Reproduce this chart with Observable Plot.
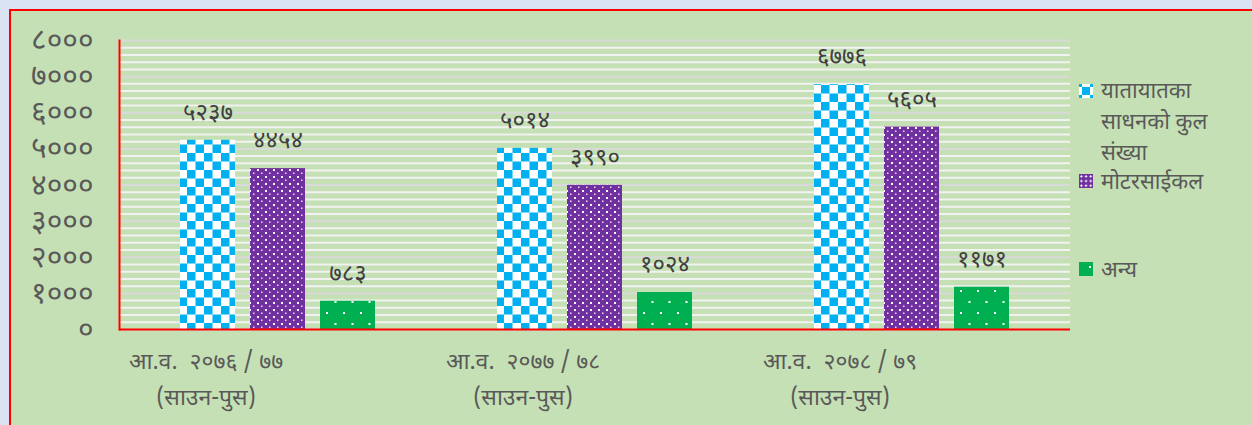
<!DOCTYPE html>
<html>
<head>
<meta charset="utf-8">
<script src="https://cdn.jsdelivr.net/npm/d3@7"></script>
<script src="https://cdn.jsdelivr.net/npm/@observablehq/plot@0.6"></script>
<style>
  html, body { margin: 0; padding: 0; }
  body { width: 1252px; height: 425px; overflow: hidden; background: #dae3f3; position: relative;
         font-family: "Noto Sans Devanagari", "Lohit Devanagari", "Noto Sans", "DejaVu Sans", sans-serif; }
  #title { position: absolute; top: -22px; left: 0; width: 1270px; text-align: center; font-size: 22px; line-height: 24px; color: #000; white-space: nowrap; }
  #panel { position: absolute; left: 9px; top: 9px; width: 1300px; height: 440px; background: #c5e0b4;
           border-left: 2px solid #ff0000; border-top: 2px solid #ff0000; }
  #chart { position: absolute; left: 0; top: 0; }
  #legend { position: absolute; left: 1079px; top: 0; color: #595959; font-size: 22px; }
  .item { position: absolute; left: 0; white-space: nowrap; }
  .sw { position: absolute; left: 0; width: 14px; height: 14px; }
  .lt { position: absolute; left: 22px; line-height: 31px; }
</style>
</head>
<body>
<div id="title">पछिल्लो तीन आर्थिक वर्षमा दर्ता भएका सवारी साधनहरूको विवरण</div>
<div id="panel"></div>
<div id="chart"></div>
<div id="legend"></div>
<script>
// ---- data ----
const groups = ["आ.व.  २०७६ / ७७", "आ.व.  २०७७ / ७८", "आ.व.  २०७८ / ७९"];
const groupSub = ["(साउन-पुस)", "(साउन-पुस)", "(साउन-पुस)"];
const series = ["यातायातका साधनको कुल संख्या", "मोटरसाईकल", "अन्य"];
const totalVehicles = [5237, 5014, 6776];
const motorcycles = [4454, 3990, 5605];
const others = [783, 1024, 1171];
const yTicks = [0, 1000, 2000, 3000, 4000, 5000, 6000, 7000, 8000];

const seriesValues = [totalVehicles, motorcycles, others];
const data = [];
groups.forEach((g, gi) => series.forEach((s, si) => data.push({group: g, series: s, value: seriesValues[si][gi]})));

const devDigits = "०१२३४५६७८९";
const toDev = v => String(v).replace(/[0-9]/g, c => devDigits[+c]);

const patterns = ["url(#pChecker)", "url(#pPurple)", "url(#pGreen)"];
const minor = d3.range(200, 8001, 200).filter(v => v % 1000 !== 0);
const major = yTicks.filter(v => v > 0);

const chart = Plot.plot({
  width: 1252,
  height: 425,
  marginLeft: 119,
  marginRight: 182,
  marginTop: 40,
  marginBottom: 96,
  style: {background: "transparent", fontFamily: "'Noto Sans Devanagari','Lohit Devanagari','Noto Sans',sans-serif", overflow: "visible"},
  fx: {domain: groups, padding: 0, axis: null, label: null},
  x: {domain: series, paddingInner: 0.214, paddingOuter: 0.871, axis: null},
  y: {domain: [0, 8000], axis: null},
  color: {domain: series, range: patterns},
  marks: [
    Plot.ruleY(minor, {stroke: "#f2f2f2", strokeWidth: 2}),
    Plot.ruleY(major, {stroke: "#d9d9d9", strokeWidth: 2}),
    Plot.barY(data, {fx: "group", x: "series", y: "value", fill: "series"}),
    Plot.text(data, {fx: "group", x: "series", y: "value", text: d => toDev(d.value), dy: -28, fontSize: 24, fill: "#404040"}),
    Plot.ruleY([0], {stroke: "#ff0000", strokeWidth: 2}),
    Plot.frame({anchor: "left", stroke: "#ff0000", strokeWidth: 2, facetAnchor: "left"}),
    Plot.axisY({ticks: yTicks, tickFormat: toDev, tickSize: 0, tickPadding: 26, fontSize: 30, fill: "#595959", label: null}),
    Plot.text(groups, {fx: d => d, frameAnchor: "bottom", dy: 39, dx: -72, text: d => d, fontSize: 23, fill: "#595959"}),
    Plot.text(groups, {fx: d => d, frameAnchor: "bottom", dy: 75, dx: -72, text: (d, i) => groupSub[i], fontSize: 23, fill: "#595959"})
  ]
});

// pattern definitions
const svg = d3.select(chart.tagName.toLowerCase() === "svg" ? chart : chart.querySelector("svg"));
const defs = svg.insert("defs", ":first-child");
const pc = defs.append("pattern").attr("id", "pChecker").attr("patternUnits", "userSpaceOnUse").attr("width", 17).attr("height", 17);
pc.append("rect").attr("width", 17).attr("height", 17).attr("fill", "#ffffff");
pc.append("rect").attr("width", 8.5).attr("height", 8.5).attr("fill", "#00b0f0");
pc.append("rect").attr("x", 8.5).attr("y", 8.5).attr("width", 8.5).attr("height", 8.5).attr("fill", "#00b0f0");
const pp = defs.append("pattern").attr("id", "pPurple").attr("patternUnits", "userSpaceOnUse").attr("width", 8).attr("height", 7);
pp.append("rect").attr("width", 8).attr("height", 7).attr("fill", "#7030a0");
pp.append("rect").attr("x", 1).attr("y", 1).attr("width", 2).attr("height", 2).attr("fill", "#ffffff");
pp.append("rect").attr("x", 5).attr("y", 4.5).attr("width", 1.5).attr("height", 1.5).attr("fill", "#e6d9f0");
const pg = defs.append("pattern").attr("id", "pGreen").attr("patternUnits", "userSpaceOnUse").attr("width", 17).attr("height", 22);
pg.append("rect").attr("width", 17).attr("height", 22).attr("fill", "#00b050");
pg.append("rect").attr("x", 3).attr("y", 4).attr("width", 2).attr("height", 2).attr("fill", "#ffffff");
pg.append("rect").attr("x", 11.5).attr("y", 15).attr("width", 2).attr("height", 2).attr("fill", "#ffffff");

document.getElementById("chart").appendChild(chart);

// legend
const legend = d3.select("#legend");
const legendSpec = [
  {lines: ["यातायातका", "साधनको कुल", "संख्या"], swTop: 84, txtTop: 77},
  {lines: ["मोटरसाईकल"], swTop: 174, txtTop: 168},
  {lines: ["अन्य"], swTop: 262, txtTop: 256}
];
legendSpec.forEach((s, i) => {
  const it = legend.append("div").attr("class", "item");
  const sw = it.append("div").attr("class", "sw").style("top", s.swTop + "px");
  if (i === 0) {
    sw.style("background", "#00b0f0").style("box-shadow", "inset 0 0 0 3px #ffffff");
    [["left","top"],["right","top"],["left","bottom"],["right","bottom"]].forEach(([h, v]) =>
      sw.append("div").style("position","absolute").style(h,"0").style(v,"0").style("width","3px").style("height","3px").style("background","#00b0f0"));
  } else if (i === 1) {
    sw.style("background", "radial-gradient(circle, #ffffff 0.9px, transparent 1.1px) 0 0/4.7px 4.7px, #7030a0");
  } else {
    sw.style("background", "#00b050");
    sw.append("div").style("position","absolute").style("left","10px").style("top","4px").style("width","2px").style("height","2px").style("background","#ffffff");
  }
  s.lines.forEach((l, j) => it.append("div").attr("class", "lt").style("top", (s.txtTop + j * 31) + "px").text(l));
});
</script>
</body>
</html>
